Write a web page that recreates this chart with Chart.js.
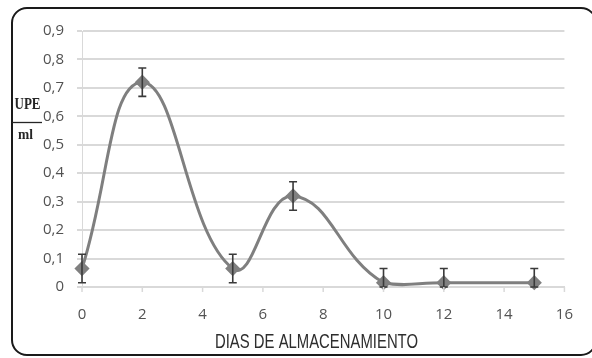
<!DOCTYPE html>
<html>
<head>
<meta charset="utf-8">
<script src="https://cdn.jsdelivr.net/npm/chart.js@4"></script>
<style>
  html, body { margin: 0; padding: 0; background: #ffffff; }
  #wrap { position: relative; width: 592px; height: 358px; overflow: hidden; }
  #frame {
    position: absolute; left: 11px; top: 7px; width: 582px; height: 345px;
    border: 2px solid #1a1a1a; border-radius: 16px; box-sizing: content-box;
  }
  canvas { position: absolute; left: 0; top: 0; }
</style>
</head>
<body>
<div id="wrap">
  <div id="frame"></div>
  <canvas id="c" width="592" height="358"></canvas>
</div>
<script>
// Storage days and plate counts (UPE/ml) with their standard deviations
const dias = [0, 2, 5, 7, 10, 12, 15];
const upe = [0.065, 0.72, 0.065, 0.32, 0.015, 0.015, 0.015];
const desv = [0.05, 0.05, 0.05, 0.05, 0.05, 0.05, 0.05];
const xTicks = [0, 2, 4, 6, 8, 10, 12, 14, 16];
const yTicks = [0, 0.1, 0.2, 0.3, 0.4, 0.5, 0.6, 0.7, 0.8, 0.9];
const xTitle = 'DIAS DE ALMACENAMIENTO';
const yTitleTop = 'UPE';
const yTitleBottom = 'ml';

const points = dias.map((d, i) => ({ x: d, y: upe[i], sd: desv[i] }));

// Vertical error bars with flat caps, drawn through the chart scales
const errorBars = {
  id: 'errorBars',
  afterDatasetsDraw(chart) {
    const { ctx, scales: { x, y } } = chart;
    ctx.save();
    ctx.strokeStyle = '#3a3a3a';
    ctx.lineWidth = 1.6;
    chart.data.datasets[0].data.forEach(p => {
      const px = x.getPixelForValue(p.x);
      const top = y.getPixelForValue(p.y + p.sd);
      const bot = y.getPixelForValue(Math.max(0, p.y - p.sd));
      ctx.beginPath();
      ctx.moveTo(px, top); ctx.lineTo(px, bot);
      ctx.moveTo(px - 4, top); ctx.lineTo(px + 4, top);
      ctx.moveTo(px - 4, bot); ctx.lineTo(px + 4, bot);
      ctx.stroke();
    });
    ctx.restore();
  }
};

// Text squeezed horizontally to a given width (condensed look)
function condensedText(ctx, text, cx, baseline, width) {
  const w = ctx.measureText(text).width;
  const k = Math.min(1, width / w);
  ctx.save();
  ctx.translate(cx, baseline);
  ctx.scale(k, 1);
  ctx.textAlign = 'center';
  ctx.textBaseline = 'alphabetic';
  ctx.fillText(text, 0, 0);
  ctx.restore();
}

// Axis titles: condensed caption under the x axis, stacked fraction on the left
const axisTitles = {
  id: 'axisTitles',
  afterDraw(chart) {
    const { ctx } = chart;
    ctx.save();
    ctx.fillStyle = '#2e2e2e';
    ctx.font = '21px "Liberation Sans", Arial, sans-serif';
    condensedText(ctx, xTitle, 316.5, 348, 203);

    ctx.fillStyle = '#262626';
    ctx.font = 'bold 16px "Liberation Serif", "DejaVu Serif", serif';
    condensedText(ctx, yTitleTop, 27.5, 108.5, 26);
    ctx.font = 'bold 15px "Liberation Serif", "DejaVu Serif", serif';
    condensedText(ctx, yTitleBottom, 25.5, 138.5, 15);
    ctx.strokeStyle = '#262626';
    ctx.lineWidth = 1.3;
    ctx.beginPath();
    ctx.moveTo(12, 122.5); ctx.lineTo(42, 122.5);
    ctx.stroke();
    ctx.restore();
  }
};

const tickFont = { family: '"Open Sans", sans-serif', size: 15, weight: '500' };

new Chart(document.getElementById('c'), {
  type: 'scatter',
  data: {
    datasets: [{
      data: points,
      showLine: true,
      borderColor: '#7f7f7f',
      backgroundColor: '#7f7f7f',
      borderWidth: 3,
      tension: 0.45,
      pointStyle: 'rectRot',
      pointRadius: 5.5,
      pointBackgroundColor: '#808080',
      pointBorderColor: '#808080',
      clip: false
    }]
  },
  options: {
    responsive: false,
    animation: false,
    layout: { padding: { left: 0, right: 20, top: 31, bottom: 0 } },
    plugins: { legend: { display: false }, tooltip: { enabled: false } },
    scales: {
      x: {
        type: 'linear',
        min: 0, max: 16,
        afterBuildTicks(s) { s.ticks = xTicks.map(v => ({ value: v })); },
        afterFit(s) { s.height = 71; },
        grid: { display: false, drawTicks: false },
        border: { display: true, color: '#d9d9d9', width: 2 },
        ticks: {
          padding: 19,
          color: '#525252',
          font: tickFont,
          callback: v => String(v)
        }
      },
      y: {
        min: 0, max: 0.9,
        afterBuildTicks(s) { s.ticks = yTicks.map(v => ({ value: v })); },
        afterFit(s) { s.width = 82; },
        grid: { color: '#d9d9d9', lineWidth: 2, tickLength: 5, drawTicks: true },
        border: { display: true, color: '#d9d9d9', width: 1 },
        ticks: {
          padding: 13,
          color: '#525252',
          font: tickFont,
          callback: v => v.toFixed(1).replace('.', ',').replace(/^0,0$/, '0')
        }
      }
    }
  },
  plugins: [errorBars, axisTitles, {
    // short tick marks hanging below the x axis
    id: 'xTickMarks',
    afterDraw(chart) {
      const { ctx, scales: { x, y } } = chart;
      ctx.save();
      ctx.strokeStyle = '#d9d9d9';
      ctx.lineWidth = 1.5;
      const base = y.getPixelForValue(0);
      xTicks.forEach(v => {
        const px = x.getPixelForValue(v);
        ctx.beginPath(); ctx.moveTo(px, base); ctx.lineTo(px, base + 5); ctx.stroke();
      });
      ctx.restore();
    }
  }]
});
</script>
</body>
</html>
